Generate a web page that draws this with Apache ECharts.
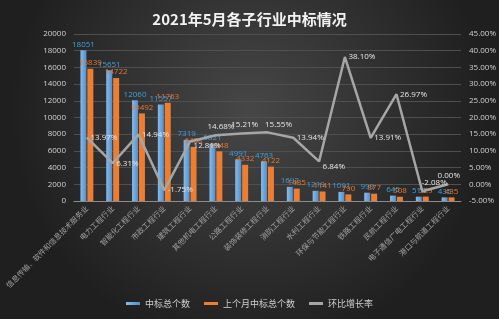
<!DOCTYPE html>
<html>
<head>
<meta charset="utf-8">
<title>2021年5月各子行业中标情况</title>
<script src="https://cdn.jsdelivr.net/npm/echarts@6/dist/echarts.min.js"></script>
<style>
	html, body { margin: 0; padding: 0; }
	#chart { width: 499px; height: 319px; }
</style>
</head>
<body>
<div id="chart"></div>
<script>
// 行业类别
var categories = ['信息传输、软件和信息技术服务业', '电力工程行业', '智能化工程行业', '市政工程行业',
	'建筑工程行业', '其他机电工程行业', '公路工程行业', '装饰装修工程行业', '消防工程行业',
	'水利工程行业', '环保与节能工程行业', '铁路工程行业', '民航工程行业', '电子通信广电工程行业',
	'港口与航道工程行业'];
// 中标总个数
var current = [18051, 15651, 12060, 11557, 7319, 6821, 4991, 4763, 1692, 1219, 1091, 999, 645, 518, 435];
// 上个月中标总个数
var lastMonth = [15839, 14722, 10492, 11763, 6488, 5948, 4332, 4122, 1485, 1141, 790, 877, 508, 529, 435];
// 环比增长率 (%)
var growth = [13.97, 6.31, 14.94, -1.75, 12.81, 14.68, 15.21, 15.55, 13.94, 6.84, 38.10, 13.91, 26.97, -2.08, 0.00];

// 折线标签微调，避免重叠
var lineLabelShift = { 4: [0, 4], 5: [-12, -9], 6: [-14, -9], 7: [-6, -8], 9: [0, 5], 13: [-4, -9], 14: [-14, -9] };

var chart = echarts.init(document.getElementById('chart'));
var option = {
	backgroundColor: {
		type: 'radial', x: 0.5, y: 0.35, r: 0.75,
		colorStops: [{ offset: 0, color: '#474747' }, { offset: 1, color: '#1f1f1f' }]
	},
	title: {
		text: '2021年5月各子行业中标情况',
		left: 'center',
		top: 7,
		textStyle: { color: '#f2f2f2', fontSize: 15, fontWeight: 'bold', fontFamily: 'Noto Sans CJK SC' }
	},
	legend: {
		bottom: 6,
		icon: 'rect',
		itemWidth: 14,
		itemHeight: 3,
		itemGap: 14,
		textStyle: { color: '#cfcfcf', fontSize: 9, fontFamily: 'Noto Sans CJK SC' },
		data: ['中标总个数', '上个月中标总个数', '环比增长率']
	},
	grid: { left: 74, right: 37, top: 34, bottom: 118 },
	xAxis: {
		type: 'category',
		data: categories,
		axisLine: { lineStyle: { color: '#8c8c8c' } },
		axisTick: { show: false },
		axisLabel: {
			interval: 0, rotate: 45, color: '#a0a0a0', fontSize: 7.5, margin: 6,
			fontFamily: 'Noto Sans CJK SC'
		}
	},
	yAxis: [{
		type: 'value', min: 0, max: 20000, interval: 2000,
		axisLabel: {
			color: '#d0d0d0', fontSize: 8, fontFamily: 'Open Sans',
			formatter: function (v) { return String(v); }
		},
		axisLine: { show: false },
		splitLine: { lineStyle: { color: '#4f4f4f', width: 1 } }
	}, {
		type: 'value', min: -5, max: 45, interval: 5,
		axisLabel: {
			color: '#d0d0d0', fontSize: 8, fontFamily: 'Open Sans',
			formatter: function (v) { return v.toFixed(2) + '%'; }
		},
		axisLine: { show: false },
		splitLine: { show: false }
	}],
	series: [{
		name: '中标总个数',
		type: 'bar',
		data: current,
		barWidth: 6,
		barGap: '15%',
		itemStyle: {
			color: {
				type: 'linear', x: 0, y: 0, x2: 1, y2: 0,
				colorStops: [{ offset: 0, color: '#8bbbe8' }, { offset: 1, color: '#4f8fcc' }]
			}
		},
		label: { show: true, position: 'top', distance: 2, color: '#3ea0dc', fontSize: 8, fontFamily: 'Open Sans' }
	}, {
		name: '上个月中标总个数',
		type: 'bar',
		data: lastMonth,
		barWidth: 6,
		itemStyle: { color: '#ed7d31' },
		label: { show: true, position: 'top', distance: 2, color: '#e8772e', fontSize: 8, fontFamily: 'Open Sans' }
	}, {
		name: '环比增长率',
		type: 'line',
		yAxisIndex: 1,
		data: growth,
		showSymbol: true,
		symbol: 'circle',
		symbolSize: 1,
		lineStyle: { color: '#a6a6a6', width: 2.5 },
		itemStyle: { color: '#a6a6a6' },
		label: {
			show: true, position: 'right', distance: 3, color: '#e6e6e6', fontSize: 8, fontFamily: 'Open Sans',
			formatter: function (p) { return p.value.toFixed(2) + '%'; }
		},
		labelLayout: function (params) {
			var s = lineLabelShift[params.dataIndex];
			if (!s) return {};
			return { dx: s[0], dy: s[1] };
		}
	}]
};
chart.setOption(option);
</script>
</body>
</html>
